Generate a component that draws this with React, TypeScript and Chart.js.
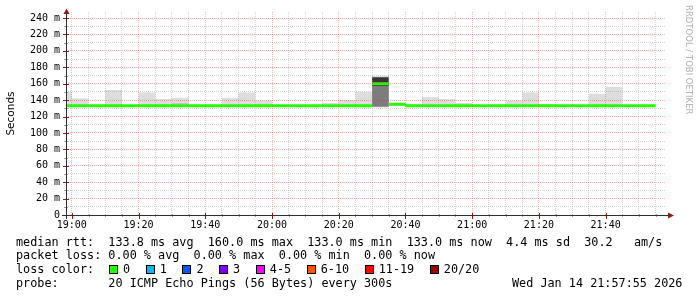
import React, { useEffect, useRef } from 'react';
import { Chart, registerables } from 'chart.js';

Chart.register(...registerables);

// ---- time window of the graph ----
const windowStart = '18:58:15';
const windowEnd = '21:58:06';

// ---- 5-minute bins (end time of each bin) ----
const binEnds = [
  '19:00', '19:05', '19:10', '19:15', '19:20', '19:25', '19:30', '19:35', '19:40', '19:45',
  '19:50', '19:55', '20:00', '20:05', '20:10', '20:15', '20:20', '20:25', '20:30', '20:35',
  '20:40', '20:45', '20:50', '20:55', '21:00', '21:05', '21:10', '21:15', '21:20', '21:25',
  '21:30', '21:35', '21:40', '21:45', '21:50', '21:55',
];

// median rtt (ms) per bin
const medianMs = [
  133, 133, 133, 133, 133, 133, 133, 133, 133, 133,
  133, 133, 133, 133, 133, 133, 133, 133, 133, 160,
  135, 133, 133, 133, 133, 133, 133, 133, 133, 133,
  133, 133, 133, 133, 133, 133,
];

// smoke range (min / max ping, ms) per bin
const smokeMinMs = [
  131.5, 131.5, 131.5, 131.5, 131.5, 131.5, 131.5, 131.5, 131.5, 131.5,
  131.5, 131.5, 131.5, 131.5, 131.5, 131.5, 131.5, 131.5, 131.5, 131,
  133.5, 131.5, 131.5, 131.5, 131.5, 131.5, 131.5, 131.5, 131.5, 131.5,
  131.5, 131.5, 131.5, 131.5, 131.5, 131.5,
];
const smokeMaxMs = [
  150.3, 142.2, 133, 152.3, 133, 149.3, 141.4, 142.9, 133, 133,
  142.9, 149.3, 139.3, 133, 133, 133, 136.9, 140.1, 150.3, 169.8,
  136, 135.6, 143.8, 141.4, 136.9, 133, 133, 139.3, 149.3, 135.3,
  133, 133, 147.8, 156.3, 133, 133,
];

// denser smoke shades (drawn darker), listed by bin
const shadeBins = ['20:35', '20:35', '19:35'];
const shadeLowMs = [157.3, 132, 131.5];
const shadeHighMs = [167.8, 157.3, 136.5];
const shadeColors = ['#363636', '#7d7d7d', '#c8c8c8'];

// ---- axis ticks ----
const yTickValues = [0, 20, 40, 60, 80, 100, 120, 140, 160, 180, 200, 220, 240];
const yTickLabels = ['0', '20 m', '40 m', '60 m', '80 m', '100 m', '120 m', '140 m', '160 m', '180 m', '200 m', '220 m', '240 m'];
const yMax = 247.4;
const xTickTimes = ['19:00', '19:20', '19:40', '20:00', '20:20', '20:40', '21:00', '21:20', '21:40'];

// ---- legend text ----
const legendMedian = 'median rtt:  133.8 ms avg  160.0 ms max  133.0 ms min  133.0 ms now  4.4 ms sd  30.2   am/s';
const legendLoss = 'packet loss: 0.00 % avg  0.00 % max  0.00 % min  0.00 % now';
const legendLossTitle = 'loss color:';
const lossLabels = ['0', '1', '2', '3', '4-5', '6-10', '11-19', '20/20'];
const lossColors = ['#26ff00', '#00b8ff', '#0059ff', '#7e00ff', '#ff00ff', '#ff5500', '#ff0000', '#a10000'];
const legendProbe = 'probe:       20 ICMP Echo Pings (56 Bytes) every 300s';
const legendDate = 'Wed Jan 14 21:57:55 2026';
const watermark = 'RRDTOOL / TOBI OETIKER';

const toMin = (s: string) => {
  const p = s.split(':').map(Number);
  return (p[0] - 18) * 60 + p[1] + (p[2] || 0) / 60;
};

const MONO = '"DejaVu Sans Mono", monospace';

export default function App() {
  const ref = useRef<HTMLCanvasElement | null>(null);

  useEffect(() => {
    if (!ref.current) return;
    const xs = [toMin(windowStart), ...binEnds.map(toMin)];
    const step = (vals: number[]) => xs.map((x, i) => ({ x, y: i === 0 ? vals[0] : vals[i - 1] }));

    const base = {
      borderWidth: 0,
      borderColor: 'transparent',
      pointRadius: 0,
      pointHoverRadius: 0,
      stepped: 'after' as const,
    };
    const band = (low: number[], high: number[], color: string) => [
      { ...base, data: step(low), fill: false, backgroundColor: 'transparent' },
      { ...base, data: step(high), fill: '-1', backgroundColor: color },
    ];

    const halfLine = 1.83;
    const datasets: any[] = [];
    datasets.push(...band(medianMs.map((m) => m - halfLine), medianMs.map((m) => m + halfLine), '#26ff00'));
    shadeBins.forEach((b, k) => {
      const idx = binEnds.indexOf(b);
      const lo = medianMs.map((m, i) => (i === idx ? shadeLowMs[k] : m));
      const hi = medianMs.map((m, i) => (i === idx ? shadeHighMs[k] : m));
      datasets.push(...band(lo, hi, shadeColors[k]));
    });
    datasets.push(...band(smokeMinMs, smokeMaxMs, '#dddddd'));

    const xMajor = xTickTimes.map(toMin);
    const xGrid: number[] = [];
    for (let m = toMin(binEnds[0]); m <= toMin(binEnds[binEnds.length - 1]) + 1e-6; m += 5) xGrid.push(m);
    const yGrid: number[] = [];
    for (let v = 0; v <= 240; v += 10) yGrid.push(v);

    const gridGrey = 'rgba(140,140,140,0.38)';
    const gridRed = 'rgba(215,50,50,0.34)';

    const axesPlugin = {
      id: 'rrdAxes',
      afterDraw(chart: any) {
        const { ctx, chartArea: a, scales } = chart;
        ctx.save();
        ctx.lineWidth = 1;
        xGrid.forEach((m) => {
          const px = Math.round(scales.x.getPixelForValue(m)) + 0.5;
          const major = xMajor.some((v) => Math.abs(v - m) < 1e-6);
          ctx.strokeStyle = major ? '#8b1c1c' : '#a0a0a0';
          ctx.beginPath();
          ctx.moveTo(px, a.bottom - (major ? 2 : 1));
          ctx.lineTo(px, a.bottom + (major ? 4 : 2));
          ctx.stroke();
        });
        yGrid.forEach((v) => {
          const py = Math.round(scales.y.getPixelForValue(v)) + 0.5;
          const major = v % 20 === 0;
          ctx.strokeStyle = major ? '#8b1c1c' : '#a0a0a0';
          ctx.beginPath();
          ctx.moveTo(a.left - (major ? 3 : 2), py);
          ctx.lineTo(a.left + (major ? 3 : 2), py);
          ctx.stroke();
        });
        ctx.strokeStyle = '#303030';
        ctx.beginPath();
        ctx.moveTo(a.left - 4, a.bottom + 0.5);
        ctx.lineTo(a.right + 2, a.bottom + 0.5);
        ctx.stroke();
        ctx.beginPath();
        ctx.moveTo(a.left + 0.5, a.bottom + 4);
        ctx.lineTo(a.left + 0.5, a.top);
        ctx.stroke();
        ctx.fillStyle = '#8b1c1c';
        ctx.beginPath();
        ctx.moveTo(a.right + 8, a.bottom + 0.5);
        ctx.lineTo(a.right + 2, a.bottom - 2.5);
        ctx.lineTo(a.right + 2, a.bottom + 3.5);
        ctx.closePath();
        ctx.fill();
        ctx.beginPath();
        ctx.moveTo(a.left + 0.5, a.top - 3.5);
        ctx.lineTo(a.left - 2.5, a.top + 2);
        ctx.lineTo(a.left + 3.5, a.top + 2);
        ctx.closePath();
        ctx.fill();
        ctx.restore();
      },
    };

    const chart = new Chart(ref.current, {
      type: 'line',
      data: { datasets },
      options: {
        animation: false,
        responsive: false,
        devicePixelRatio: 1,
        events: [],
        layout: { padding: { left: 0, right: 31, top: 12, bottom: 0 } },
        plugins: { legend: { display: false }, tooltip: { enabled: false } },
        scales: {
          x: {
            type: 'linear',
            min: toMin(windowStart),
            max: toMin(windowEnd),
            afterFit: (s: any) => { s.height = 82; },
            afterBuildTicks: (s: any) => { s.ticks = xGrid.map((v) => ({ value: v })); },
            grid: {
              z: 1,
              drawTicks: false,
              lineWidth: 1,
              color: (c: any) => (c.tick && xMajor.some((v) => Math.abs(v - c.tick.value) < 1e-6) ? gridRed : gridGrey),
            },
            border: { display: false, dash: [1, 1] },
            ticks: {
              autoSkip: false,
              maxRotation: 0,
              padding: 4,
              color: '#000',
              font: { family: MONO, size: 10 },
              callback: (v: any) => {
                const i = xMajor.findIndex((m) => Math.abs(m - Number(v)) < 1e-6);
                return i >= 0 ? xTickTimes[i] : '';
              },
            },
          },
          y: {
            type: 'linear',
            min: 0,
            max: yMax,
            afterFit: (s: any) => { s.width = 66; },
            afterBuildTicks: (s: any) => { s.ticks = yGrid.map((v) => ({ value: v })); },
            grid: {
              z: 1,
              drawTicks: false,
              lineWidth: 1,
              color: (c: any) => (c.tick && c.tick.value % 20 === 0 ? gridRed : gridGrey),
            },
            border: { display: false, dash: [1, 1] },
            title: {
              display: true,
              text: 'Seconds',
              color: '#000',
              font: { family: '"DejaVu Sans", sans-serif', size: 10.5 },
              padding: { top: 5, bottom: 0 },
            },
            ticks: {
              autoSkip: false,
              padding: 6,
              color: '#000',
              font: { family: MONO, size: 10 },
              callback: (v: any) => {
                const i = yTickValues.indexOf(Number(v));
                return i >= 0 ? yTickLabels[i] : '';
              },
            },
          },
        },
      },
      plugins: [axesPlugin],
    } as any);
    return () => chart.destroy();
  }, []);

  const lineStyle = (top: number): React.CSSProperties => ({
    position: 'absolute',
    left: 16,
    top,
    fontFamily: MONO,
    fontSize: '11.8px',
    lineHeight: '14px',
    whiteSpace: 'pre',
    color: '#000',
  });

  const lossXs: number[] = [];
  let lx = 109;
  lossLabels.forEach((l) => {
    lossXs.push(lx);
    lx += 14 + 7.1 * l.length + 15.6;
  });

  const tops = [234.9, 248.45, 262.0, 275.55];

  return (
    <div style={{ position: 'fixed', left: 0, top: 0, width: 697, height: 297, background: '#fff', overflow: 'hidden' }}>
      <canvas ref={ref} width={697} height={297} style={{ position: 'absolute', left: 0, top: 0 }} />
      <div
        style={{
          position: 'absolute',
          left: 694,
          top: 5,
          transform: 'rotate(90deg)',
          transformOrigin: '0 0',
          fontFamily: '"DejaVu Sans", sans-serif',
          fontSize: '8.5px',
          lineHeight: '10px',
          whiteSpace: 'pre',
          color: '#b0b0b0',
        }}
      >
        {watermark}
      </div>
      <div style={lineStyle(tops[0])}>{legendMedian}</div>
      <div style={lineStyle(tops[1])}>{legendLoss}</div>
      <div style={lineStyle(tops[2])}>{legendLossTitle}</div>
      {lossLabels.map((l, i) => (
        <React.Fragment key={l}>
          <div
            style={{
              position: 'absolute',
              left: lossXs[i],
              top: 264.8,
              width: 9,
              height: 9,
              boxSizing: 'border-box',
              border: '1px solid #000',
              background: lossColors[i],
            }}
          />
          <div style={{ ...lineStyle(tops[2]), left: lossXs[i] + 14 }}>{l}</div>
        </React.Fragment>
      ))}
      <div style={lineStyle(tops[3])}>{legendProbe}</div>
      <div style={{ ...lineStyle(tops[3]), left: 512 }}>{legendDate}</div>
    </div>
  );
}
